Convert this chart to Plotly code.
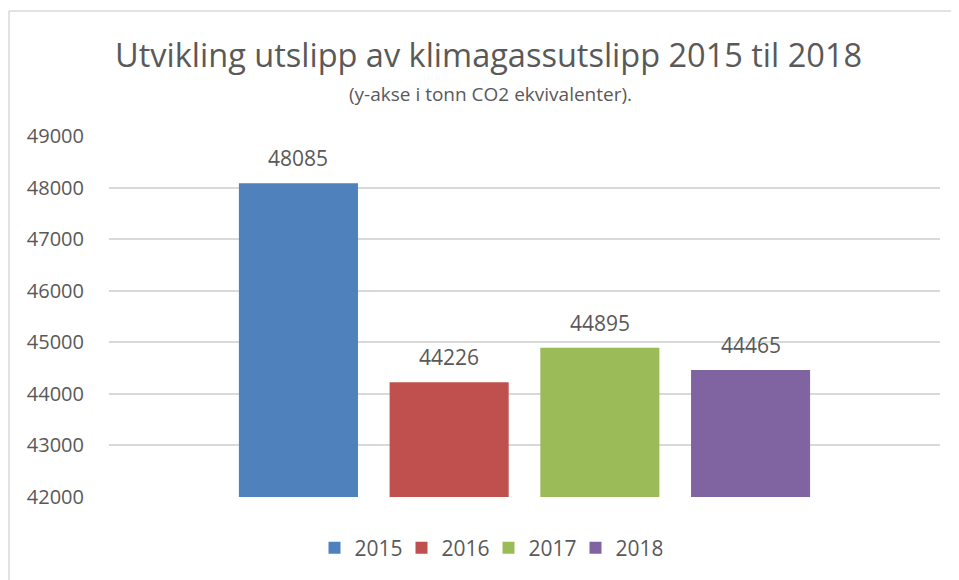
import plotly.graph_objects as go

years = ["2015", "2016", "2017", "2018"]
values = [48085, 44226, 44895, 44465]
colors = ["#4F81BD", "#C0504D", "#9BBB59", "#8064A2"]
y_ticks = [42000, 43000, 44000, 45000, 46000, 47000, 48000, 49000]

FONT = "Open Sans"
TXT = "#595959"

# page body has an 8px margin, so screen pixel p maps to figure pixel p - 8
OFF = 8
W, H = 959, 580
ML = 109 - OFF
MT = 136 - OFF
MR = W - (940 - OFF)
MB = H - (497 - OFF)
PW, PH = W - ML - MR, H - MT - MB

def px_x(p):
    return (p - OFF - ML) / PW

def px_y(p):
    return (H - MB - (p - OFF)) / PH

fig = go.Figure()
for yr, v, c in zip(years, values, colors):
    fig.add_trace(go.Bar(
        x=[yr], y=[v], name=yr, width=0.79,
        marker=dict(color=c, line=dict(width=0)),
        hoverinfo="name+y",
    ))

annotations = [
    dict(x=i, y=v, text=str(v), xref="x", yref="y", showarrow=False,
         xanchor="center", yanchor="middle", yshift=25,
         font=dict(family=FONT, size=21, color=TXT))
    for i, v in enumerate(values)
]
annotations += [
    dict(text="Utvikling utslipp av klimagassutslipp 2015 til 2018", x=px_x(488.5), y=px_y(55),
         xref="paper", yref="paper", xanchor="center", yanchor="middle", showarrow=False,
         font=dict(family=FONT, size=32.5, color=TXT)),
    dict(text="(y-akse i tonn CO2 ekvivalenter).", x=px_x(490), y=px_y(94),
         xref="paper", yref="paper", xanchor="center", yanchor="middle", showarrow=False,
         font=dict(family=FONT, size=19, color=TXT)),
]

fig.update_layout(
    width=W, height=H,
    margin=dict(l=ML, r=MR, t=MT, b=MB),
    paper_bgcolor="white", plot_bgcolor="white",
    barmode="overlay",
    showlegend=True,
    legend=dict(orientation="h", x=px_x(488.5), xanchor="center", y=px_y(548), yanchor="middle",
                font=dict(family=FONT, size=21, color=TXT), traceorder="normal",
                itemwidth=30, entrywidth=42, entrywidthmode="pixels"),
    xaxis=dict(type="category", categoryorder="array", categoryarray=years,
               range=[-1.257, 4.257], showticklabels=False, showgrid=False,
               zeroline=False, showline=False),
    yaxis=dict(range=[42000, 49000], tickvals=y_ticks, ticktext=[str(t) for t in y_ticks],
               showgrid=True, gridcolor="#D9D9D9", gridwidth=1.5, zeroline=False,
               showline=False, ticks="", ticklabelstandoff=24,
               tickfont=dict(family=FONT, size=20, color=TXT)),
    font=dict(family=FONT, color=TXT),
    annotations=annotations,
    shapes=[
        dict(type="line", xref="paper", yref="paper", x0=px_x(9), x1=px_x(970), y0=px_y(11), y1=px_y(11),
             line=dict(color="#D9D9D9", width=1.5)),
        dict(type="line", xref="paper", yref="paper", x0=px_x(9), x1=px_x(9), y0=px_y(11), y1=px_y(600),
             line=dict(color="#D9D9D9", width=1.5)),
    ],
)

fig.write_html("out.html")
